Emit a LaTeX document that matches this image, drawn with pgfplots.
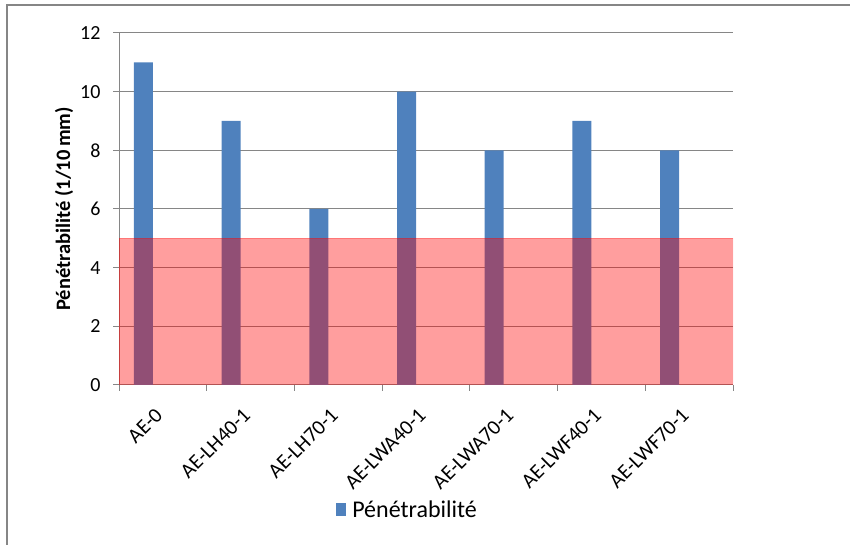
\documentclass[border=0pt]{standalone}
\usepackage{pgfplots}
\pgfplotsset{compat=1.18}
\usepackage{fontspec}
\setmainfont{Carlito}
\definecolor{barblue}{HTML}{4F81BD}
\definecolor{gridgray}{HTML}{868686}
\begin{document}
\begin{tikzpicture}[x=1pt,y=1pt]
\useasboundingbox (0,0) rectangle (850,545);
\draw[gridgray, line width=2pt] (7,-5) -- (7,540) -- (860,540);
\begin{axis}[
  at={(119pt,160pt)}, anchor=south west,
  scale only axis, width=614pt, height=352pt,
  xmin=-0.5, xmax=6.5, ymin=0, ymax=12,
  ytick={0,2,...,12},
  xtick={-0.5,0.5,...,6.5},
  x tick label as interval,
  xticklabels={AE-0,AE-LH40-1,AE-LH70-1,AE-LWA40-1,AE-LWA70-1,AE-LWF40-1,AE-LWF70-1},
  axis x line*=bottom, axis y line*=left,
  axis line style={-, draw=gridgray, line width=1pt},
  tick align=outside, major tick length=6pt,
  tick style={gridgray, line width=1pt},
  xtick pos=bottom, ytick pos=left,
  ymajorgrids, grid style={gridgray, line width=1pt},
  /pgf/number format/assume math mode=true,
  yticklabel style={font=\fontsize{20}{22}\selectfont, xshift=-9pt},
  xticklabel style={rotate=45, anchor=east, xshift=-14pt, yshift=-12pt, font=\fontsize{21}{24}\selectfont},
  ylabel={\bfseries Pénétrabilité (1/10\,mm)},
  ylabel style={at={(axis description cs:-0.0896,0.5)}, anchor=center, font=\fontsize{20.5}{23}\selectfont},
  legend style={at={(0.47,-0.355)}, anchor=center, draw=none, font=\fontsize{24}{28}\selectfont},
  legend image code/.code={\fill[barblue] (0pt,-6.5pt) rectangle (10pt,6.5pt);},
]
\addplot[ybar, fill=barblue, draw=none, bar width=19pt, bar shift=-19.5pt]
  coordinates {(0,11) (1,9) (2,6) (3,10) (4,8) (5,9) (6,8)};
\addlegendentry{\hspace{4pt}Pénétrabilité}
\addplot[fill=red, fill opacity=0.38, draw=red, draw opacity=0.25, forget plot]
  coordinates {(-0.5,5) (6.5,5)} \closedcycle;
\end{axis}
\end{tikzpicture}
\end{document}
